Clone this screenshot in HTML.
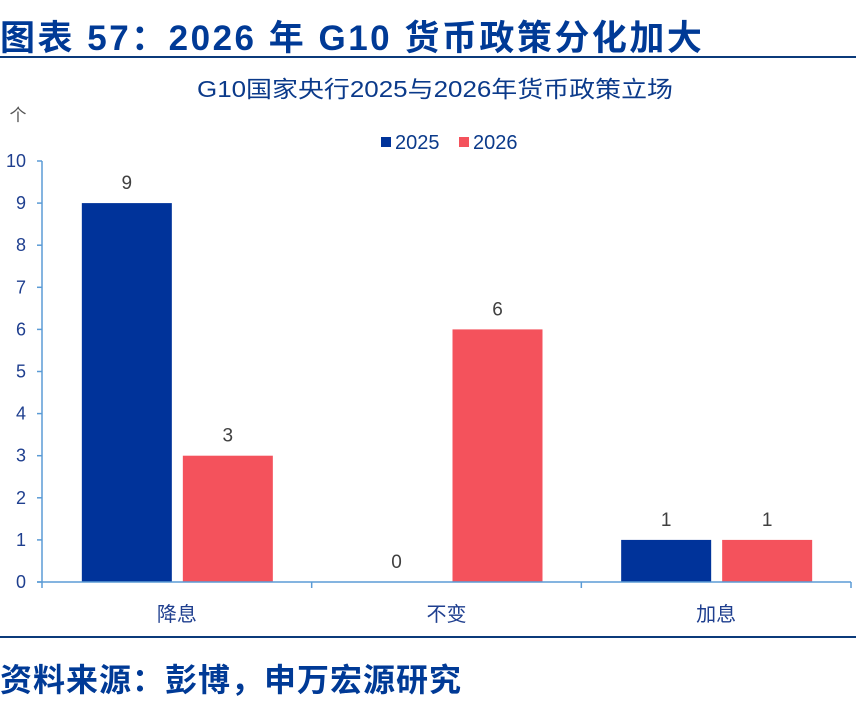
<!DOCTYPE html>
<html><head><meta charset="utf-8"><style>
body{margin:0;background:#fff;width:856px;height:705px;overflow:hidden;font-family:"Liberation Sans","Noto Sans CJK SC",sans-serif}
#title{position:absolute;left:0;top:10px;font-size:35px;font-weight:bold;color:#003a96;white-space:nowrap;letter-spacing:2.5px}
#tl{position:absolute;left:0;top:56px;width:856px;height:2px;background:#0b3a7a}
#bl{position:absolute;left:0;top:636px;width:856px;height:2px;background:#0b3a7a}
#src{position:absolute;left:0;top:655px;font-size:32px;font-weight:bold;color:#003a96;white-space:nowrap;letter-spacing:1px}
svg{position:absolute;left:0;top:0}
</style></head><body>
<div id="title">图表 57：2026 年 G10 货币政策分化加大</div>
<div id="tl"></div>
<svg id="chart" width="856" height="705"></svg>
<div id="bl"></div>
<div id="src">资料来源：彭博，申万宏源研究</div>
<script>
const categories=["降息","不变","加息"];
const series2025=[9,0,1];
const series2026=[3,6,1];
const yTicks=[0,1,2,3,4,5,6,7,8,9,10];
const NS="http://www.w3.org/2000/svg";
const svg=document.getElementById('chart');
const x0=42,x1=851,y0=582,y1=161,ymax=10;
const bw=(x1-x0)/categories.length;
const Y=v=>y0-(y0-y1)*v/ymax;
function mk(t,a,txt){const e=document.createElementNS(NS,t);for(const k in a)e.setAttribute(k,a[k]);if(txt!==undefined)e.textContent=txt;svg.appendChild(e);return e;}
let e;
e=mk('text',{x:197,y:97,'font-size':23,fill:'#0b3a8a',textLength:476,lengthAdjust:'spacingAndGlyphs'},'G10国家央行2025与2026年货币政策立场');

e=mk('text',{x:18,y:121,'font-size':17,fill:'#555','text-anchor':'middle'},'个');

e=mk('rect',{x:381,y:137,width:10,height:10,fill:'#00339a'});

e=mk('text',{x:395,y:149,'font-size':20,fill:'#0b3a8a'},'2025');

e=mk('rect',{x:459,y:137,width:10,height:10,fill:'#f4525c'});

e=mk('text',{x:473,y:149,'font-size':20,fill:'#0b3a8a'},'2026');

yTicks.forEach(v=>{
 e=mk('line',{x1:37,x2:x0,y1:Y(v),y2:Y(v),stroke:'#5b9bd5','stroke-width':1.5});
 
 e=mk('text',{x:26,y:Y(v)+6,'font-size':18,fill:'#1f3f8f','text-anchor':'end'},v);
 
});
e=mk('line',{x1:x0,x2:x0,y1:y1,y2:y0,stroke:'#5b9bd5','stroke-width':1.5});

categories.forEach((c,i)=>{
 const cx=x0+bw*(i+0.5);
 const vals=[series2025[i],series2026[i]],cols=['#00339a','#f4525c'],offs=[-95,6];
 vals.forEach((v,j)=>{
  const bx=cx+offs[j];
  if(v>0){e=mk('rect',{x:bx,y:Y(v),width:90,height:y0-Y(v),fill:cols[j]});
  }
  e=mk('text',{x:bx+45,y:Y(v)-14,'font-size':19,fill:'#404040','text-anchor':'middle'},v);
  
 });
 e=mk('text',{x:cx,y:621,'font-size':20,fill:'#1f3f8f','text-anchor':'middle'},c);
 
});
for(let i=0;i<=categories.length;i++){
 e=mk('line',{x1:x0+bw*i,x2:x0+bw*i,y1:y0,y2:y0+6,stroke:'#5b9bd5','stroke-width':1.5});
 
}
e=mk('line',{x1:x0-5,x2:x1,y1:y0,y2:y0,stroke:'#5b9bd5','stroke-width':1.5});

</script>
</body></html>
